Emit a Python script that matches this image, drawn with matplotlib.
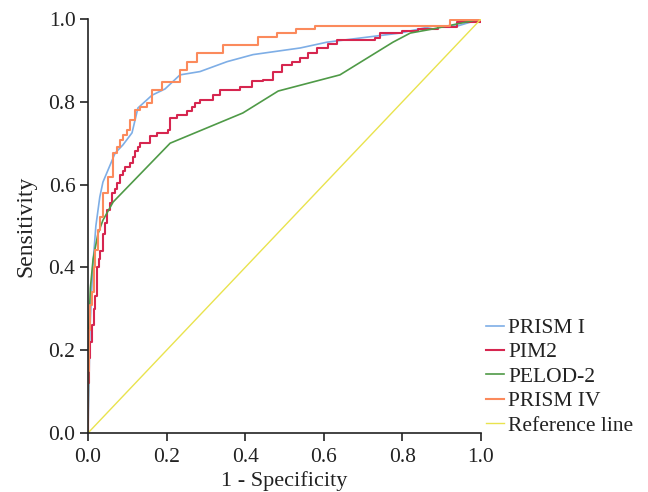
import matplotlib
matplotlib.use("Agg")
import matplotlib.pyplot as plt

plt.rcParams['font.family'] = ['Liberation Serif', 'DejaVu Serif']

# PRISM I (smooth)
prism1_x = [0, 0.005, 0.012, 0.02, 0.03, 0.038, 0.069, 0.089, 0.112, 0.127, 0.163, 0.196, 0.234,
            0.285, 0.354, 0.42, 0.54, 0.608, 0.692, 0.794, 0.878, 0.94, 1.0]
prism1_y = [0, 0.25, 0.40, 0.50, 0.57, 0.606, 0.676, 0.696, 0.725, 0.785, 0.816, 0.831, 0.865,
            0.873, 0.897, 0.914, 0.93, 0.944, 0.954, 0.966, 0.983, 0.983, 1.0]

# PIM2 (step)
pim2_x = [0, 0, 0.003, 0.006, 0.01, 0.014, 0.018, 0.023, 0.028, 0.031, 0.038, 0.043, 0.048, 0.055,
          0.061, 0.068, 0.074, 0.081, 0.088, 0.094, 0.107, 0.114, 0.12, 0.127, 0.132, 0.158, 0.176,
          0.204, 0.209, 0.226, 0.252, 0.265, 0.272, 0.285, 0.318, 0.336, 0.387, 0.417, 0.445,
          0.471, 0.494, 0.519, 0.54, 0.56, 0.583, 0.61, 0.634, 0.73, 0.743, 0.80, 0.84, 0.89,
          0.94, 1.0]
pim2_y = [0, 0.12, 0.18, 0.22, 0.26, 0.30, 0.33, 0.40, 0.42, 0.44, 0.48, 0.507, 0.539, 0.555,
          0.58, 0.59, 0.604, 0.623, 0.633, 0.643, 0.652, 0.667, 0.68, 0.691, 0.70, 0.717, 0.725,
          0.732, 0.761, 0.768, 0.778, 0.787, 0.797, 0.804, 0.816, 0.828, 0.836, 0.85, 0.853,
          0.872, 0.889, 0.896, 0.906, 0.918, 0.93, 0.94, 0.949, 0.954, 0.966, 0.971, 0.976, 0.981,
          0.993, 1.0]

# PELOD-2 (polyline)
pelod_x = [0, 0.002, 0.006, 0.013, 0.025, 0.038, 0.064, 0.209, 0.394, 0.484, 0.641, 0.776,
           0.82, 0.878, 1.0]
pelod_y = [0, 0.25, 0.35, 0.42, 0.48, 0.514, 0.558, 0.70, 0.773, 0.826, 0.865, 0.944,
           0.966, 0.976, 1.0]

# PRISM IV (step)
prism4_x = [0, 0, 0.003, 0.006, 0.01, 0.014, 0.018, 0.025, 0.031, 0.038, 0.05, 0.064, 0.074,
            0.082, 0.089, 0.1, 0.107, 0.12, 0.132, 0.15, 0.163, 0.188, 0.216, 0.234, 0.252,
            0.277, 0.318, 0.344, 0.42, 0.433, 0.48, 0.53, 0.578, 0.87, 0.92, 1.0]
prism4_y = [0, 0.15, 0.25, 0.31, 0.34, 0.40, 0.442, 0.49, 0.522, 0.58, 0.618, 0.676, 0.69,
            0.708, 0.72, 0.732, 0.756, 0.78, 0.787, 0.797, 0.828, 0.848, 0.848, 0.877, 0.896,
            0.918, 0.918, 0.937, 0.937, 0.957, 0.966, 0.976, 0.983, 0.983, 0.998, 1.0]

ref_x = [0, 1]
ref_y = [0, 1]

labels = ["PRISM I", "PIM2", "PELOD-2", "PRISM IV", "Reference line"]
colors = ["#7eaee6", "#d6264f", "#4f9a47", "#fb8a5c", "#e9e34e"]

fig = plt.figure(figsize=(6.48, 4.92), dpi=100)
ax = fig.add_axes([0.1358, 0.1199, 0.6065, 0.8415])

ax.plot(prism1_x, prism1_y, color=colors[0], lw=1.2, label=labels[0])
ax.plot(pim2_x, pim2_y, color=colors[1], lw=1.5, drawstyle='steps-post', label=labels[1])
ax.plot(pelod_x, pelod_y, color=colors[2], lw=1.2, label=labels[2])
ax.plot(prism4_x, prism4_y, color=colors[3], lw=1.5, drawstyle='steps-post', label=labels[3])
ax.plot(ref_x, ref_y, color=colors[4], lw=1.0, label=labels[4])

ax.set_xlim(0, 1)
ax.set_ylim(0, 1)
ticks = [0.0, 0.2, 0.4, 0.6, 0.8, 1.0]
ax.set_xticks(ticks)
ax.set_yticks(ticks)
ax.set_xticklabels([f"{t:.1f}" for t in ticks])
ax.set_yticklabels([f"{t:.1f}" for t in ticks])
ax.tick_params(direction='out', length=6, width=1.2, labelsize=15.5, colors='#222222', pad=3)
ax.tick_params(axis='x', pad=5)
for s in ['top', 'right']:
    ax.spines[s].set_visible(False)
for s in ['left', 'bottom']:
    ax.spines[s].set_linewidth(1.2)
    ax.spines[s].set_color('#222222')
ax.set_xlabel("1 - Specificity", fontsize=16, labelpad=3, color='#222222')
ax.set_ylabel("Sensitivity", fontsize=17, labelpad=9, color='#222222')

fig.legend(loc='lower left', bbox_to_anchor=(0.744, 0.106), frameon=False,
           fontsize=15.5, handlelength=0.8, handletextpad=0.2, labelspacing=0.2,
           borderpad=0.2, borderaxespad=0, labelcolor='#222222')

fig.savefig("out.png", dpi=100)
